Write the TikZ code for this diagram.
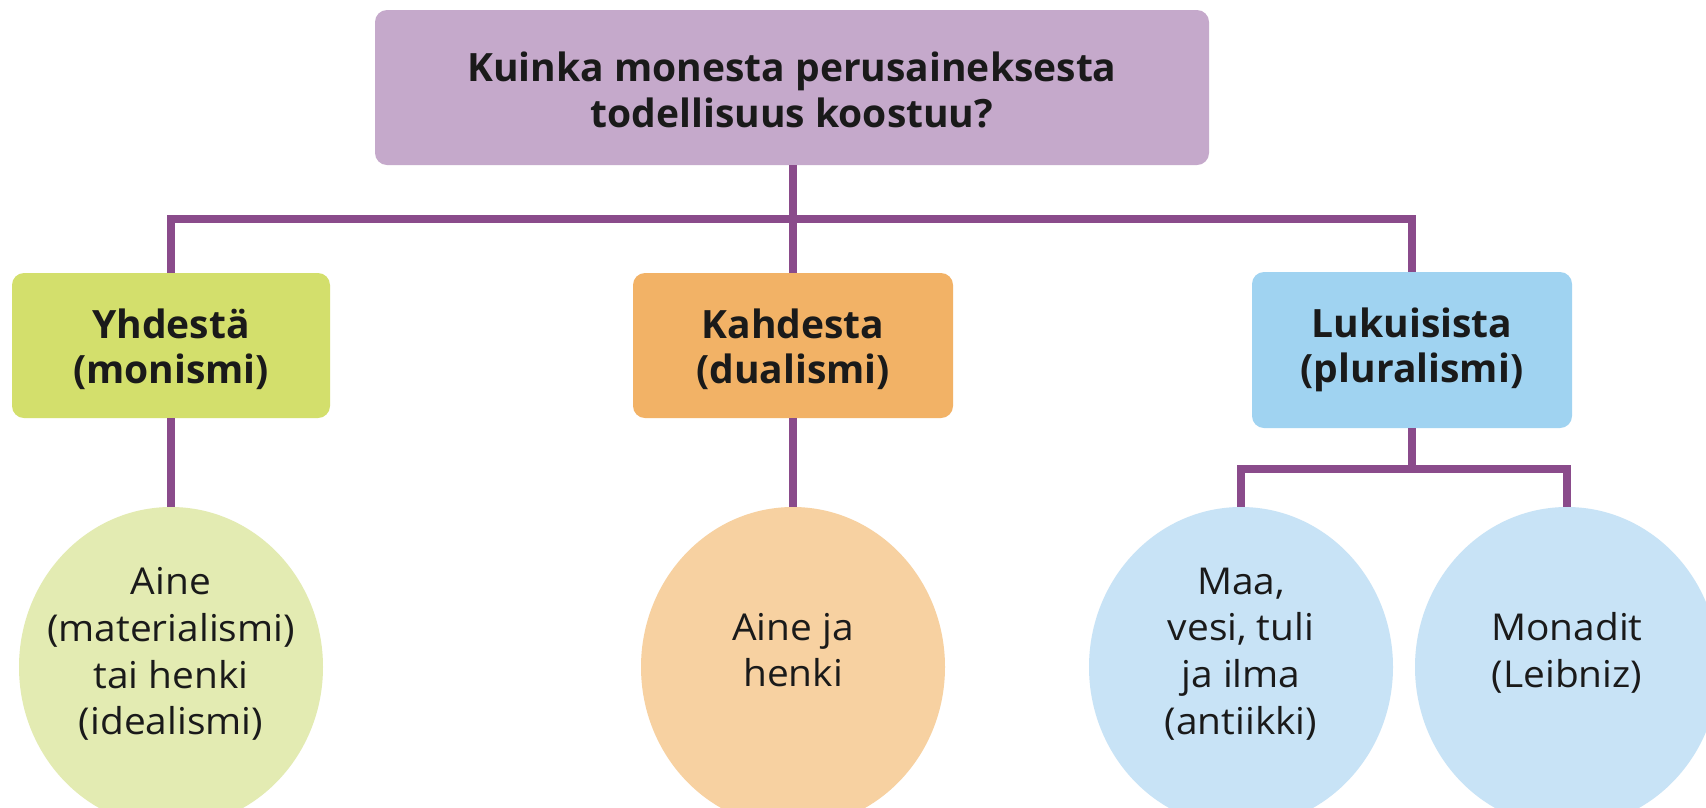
\documentclass[tikz,border=0pt]{standalone}
\usepackage{fontspec}
\setmainfont{Open Sans}
\newfontfamily\ovalfont{Open Sans}[FakeStretch=1.05]
\usetikzlibrary{shapes.geometric}
\definecolor{topc}{HTML}{C5A9CB}
\definecolor{grn}{HTML}{D3DF6C}
\definecolor{org}{HTML}{F2B266}
\definecolor{blu}{HTML}{A0D3F1}
\definecolor{egrn}{HTML}{E3EBB2}
\definecolor{eorg}{HTML}{F7D1A1}
\definecolor{eblu}{HTML}{C8E3F6}
\definecolor{linec}{HTML}{8A4B8B}
\definecolor{txt}{HTML}{1A1A1A}
\begin{document}
\begin{tikzpicture}[x=1pt,y=-1pt,
  boxnode/.style={rounded corners=12pt, inner sep=0pt, align=center, text=txt,
    font=\fontsize{39}{45}\selectfont\bfseries},
  ovalnode/.style={ellipse, inner sep=0pt, minimum width=304pt, minimum height=320pt},
  ovaltext/.style={align=center, text=txt, inner sep=0pt, font=\ovalfont\fontsize{37}{46.7}\selectfont},
  conn/.style={draw=linec, line width=8pt, line join=miter}]
\useasboundingbox[fill=white] (0,0) rectangle (1706,807);

% ovals
\node[ovalnode, fill=egrn] (o1) at (171,667) {};
\node[ovalnode, fill=eorg] (o2) at (793,667) {};
\node[ovalnode, fill=eblu] (o3) at (1241,667) {};
\node[ovalnode, fill=eblu] (o4) at (1567,667) {};

% boxes
\node[boxnode, fill=topc, minimum width=834pt, minimum height=155pt,
  font=\fontsize{39}{46}\selectfont\bfseries] (top) at (792,87.5)
  {\rule{0pt}{35pt}Kuinka monesta perusaineksesta\\todellisuus koostuu?};
\node[boxnode, fill=grn, minimum width=318pt, minimum height=145pt] (b1) at (171,345.5)
  {\rule{0pt}{37pt}Yhdestä\\(monismi)};
\node[boxnode, fill=org, minimum width=320pt, minimum height=145pt] (b2) at (793,345.5)
  {\rule{0pt}{37pt}Kahdesta\\(dualismi)};
\node[boxnode, fill=blu, minimum width=320pt, minimum height=156pt] (b3) at (1412,350)
  {Lukuisista\\(pluralismi)};

% oval texts
\node[ovaltext] (t1) at (171,654) {Aine\\(materialismi)\\tai henki\\(idealismi)};
\node[ovaltext] (t2) at (793,650) {Aine ja\\henki};
\node[ovaltext] (t3) at (1241,654) {Maa,\\vesi, tuli\\ja ilma\\(antiikki)};
\node[ovaltext] (t4) at (1567,653) {Monadit\\(Leibniz)};

% connectors
\coordinate (hl) at (793,219);
\coordinate (hr) at (1412,469);
\draw[conn] (top.south -| hl) -- (hl);
\draw[conn] (b1.north) -- (b1.north |- hl) -- (b3.north |- hl) -- (b3.north);
\draw[conn] (hl) -- (b2.north);
\draw[conn] (b1.south) -- (o1.north);
\draw[conn] (b2.south) -- (o2.north);
\draw[conn] (b3.south) -- (hr);
\draw[conn] (o3.north) -- (o3.north |- hr) -- (o4.north |- hr) -- (o4.north);
\end{tikzpicture}
\end{document}
